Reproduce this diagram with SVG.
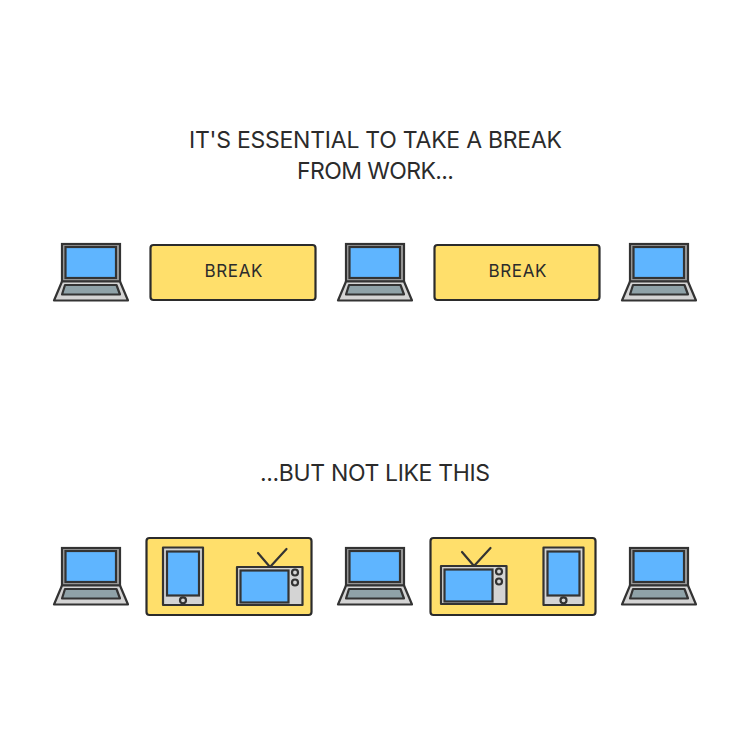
<svg xmlns="http://www.w3.org/2000/svg" width="750" height="750" viewBox="0 0 750 750">
<style>
.ln{stroke:#333;stroke-width:2.200;stroke-linejoin:round;stroke-linecap:round}
.panel{fill:#ffdf6b;stroke:#2b2b2b;stroke-width:2.200}
.scr{fill:#5fb5ff;stroke:#333;stroke-width:2.200}
.body{fill:#d4d4d4;stroke:#333;stroke-width:2.200;stroke-linejoin:round}
.key{fill:#8fa2a8;stroke:#333;stroke-width:2.200;stroke-linejoin:round}
.lid{fill:#a0a0a0;stroke:#333;stroke-width:2.200}
text{font-family:"Inter","Liberation Sans",sans-serif;fill:#2b2b2b;text-anchor:middle}
.t{font-size:23px}
.b{font-size:17px}
</style>
<defs>
<g id="laptop">
<rect class="lid" x="62" y="244" width="58" height="37.500"/>
<rect class="scr" x="65.500" y="247" width="50.500" height="31"/>
<path class="body" d="M62 281.500H120L128 300.500H54Z"/>
<path class="key" d="M65 285H116.500L120 294.500H62Z"/>
</g>
<g id="tablet">
<rect class="body" x="0" y="0" width="40" height="57.500"/>
<rect class="scr" x="4" y="4" width="32" height="44"/>
<circle class="body" cx="20" cy="52.800" r="3"/>
</g>
<g id="tv">
<path class="ln" fill="none" d="M0 -14L12 0L28.500 -18"/>
<rect class="body" x="-21" y="0" width="65.500" height="38"/>
<rect class="scr" x="-17.500" y="3.500" width="48" height="32"/>
<circle class="body" cx="37" cy="5.500" r="3"/>
<circle class="body" cx="37" cy="15.500" r="3"/>
</g>
</defs>
<g id="title">
<text class="t" x="375.500" y="148" textLength="373">IT'S ESSENTIAL TO TAKE A BREAK</text>
<text class="t" x="375.500" y="179" textLength="157">FROM WORK...</text>
<text class="t" x="375" y="481" textLength="230">...BUT NOT LIKE THIS</text>
</g>
<g id="laptop-1"><use href="#laptop"/></g>
<g id="break-1"><rect class="panel" x="150.500" y="245" width="165" height="55" rx="3"/><text class="b" x="233.500" y="277" textLength="58">BREAK</text></g>
<g id="laptop-2"><use href="#laptop" x="284"/></g>
<g id="break-2"><rect class="panel" x="434.500" y="245" width="165" height="55" rx="3"/><text class="b" x="517.500" y="277" textLength="58">BREAK</text></g>
<g id="laptop-3"><use href="#laptop" x="568"/></g>
<g id="laptop-4"><use href="#laptop" y="304"/></g>
<g id="distraction-1"><rect class="panel" x="146.500" y="538" width="165" height="77" rx="3"/><use href="#tablet" x="163" y="547.500"/><use href="#tv" x="258" y="567"/></g>
<g id="laptop-5"><use href="#laptop" x="284" y="304"/></g>
<g id="distraction-2"><rect class="panel" x="430.500" y="538" width="165" height="77" rx="3"/><use href="#tv" x="462" y="566"/><use href="#tablet" x="543.500" y="547.500"/></g>
<g id="laptop-6"><use href="#laptop" x="568" y="304"/></g>
<g id="connectors"></g>
</svg>
